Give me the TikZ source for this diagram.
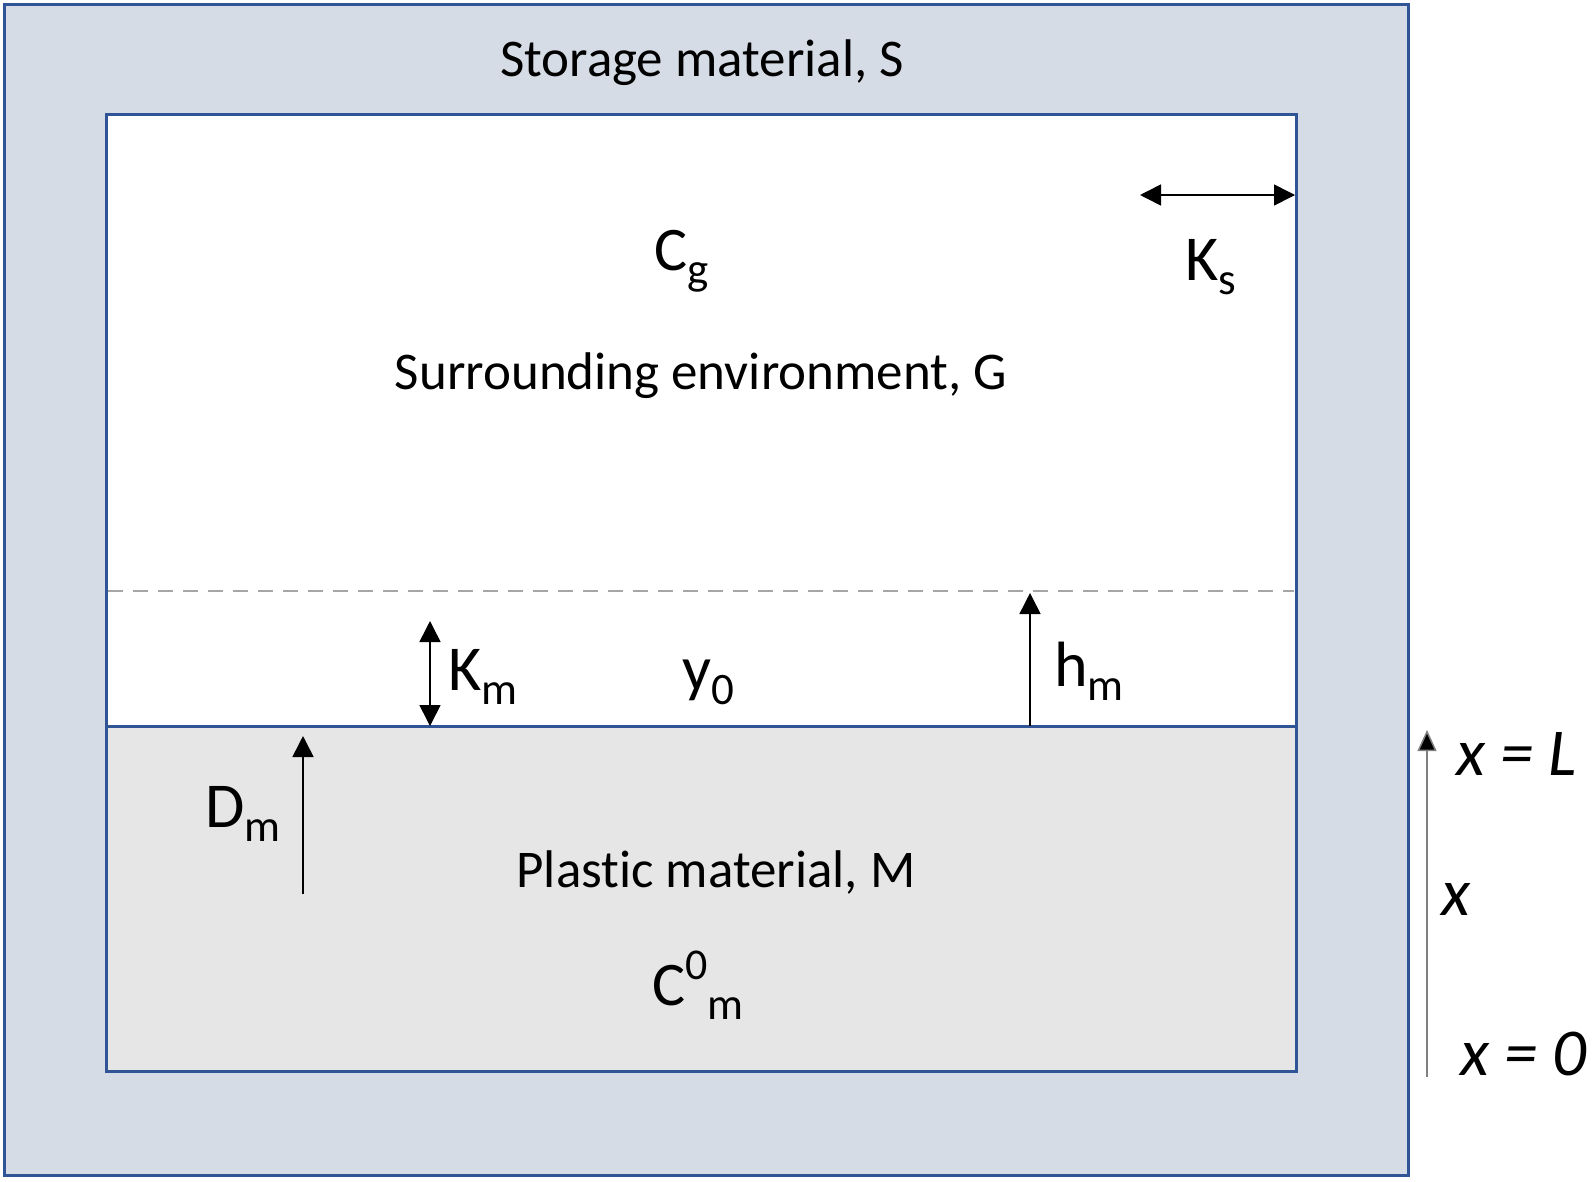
\documentclass[tikz,border=0pt]{standalone}
\usepackage{fontspec}
\setmainfont{Carlito}[Ligatures=NoCommon]
\usetikzlibrary{arrows.meta}
\definecolor{sfill}{HTML}{D6DCE5}
\definecolor{sline}{HTML}{2F5597}
\definecolor{mfill}{HTML}{E7E6E6}
\definecolor{dashgray}{HTML}{A6A6A6}
\newcommand\lblsub[2]{#1\raisebox{-14pt}{\fontsize{45}{45}\selectfont #2}}
\tikzset{
  body/.style={inner sep=0pt, font=\fontsize{53}{60}\selectfont},
  lab/.style={inner sep=0pt, font=\fontsize{64}{70}\selectfont},
  conc/.style={inner sep=0pt, font=\fontsize{62}{70}\selectfont},
  axl/.style={inner sep=0pt, font=\fontsize{67}{70}\selectfont\itshape},
  arr/.style={line width=1.6pt, -{Triangle[length=21pt,width=21pt]}},
  darr/.style={line width=1.6pt, {Triangle[length=21pt,width=21pt]}-{Triangle[length=21pt,width=21pt]}},
  wall/.style={draw=sline, line width=3pt}
}
\begin{document}
\begin{tikzpicture}[x=1pt,y=-1pt]
\useasboundingbox (0,0) rectangle (1594,1181);
% storage material
\draw[wall, fill=sfill] (4,4) rectangle (1408,1175);
\fill[white] (106,114) rectangle (1296,726);
\fill[mfill] (106,726) rectangle (1296,1071);
\draw[dashgray, line width=2.8pt, dash pattern=on 15pt off 10pt] (108,591) -- (1294,591);
\draw[wall] (106,726) -- (1296,726);
\draw[wall] (106,114) rectangle (1296,1071);
% texts
\node[body, anchor=base] (st) at (702,76) {Storage material, S};
\node[body, anchor=base] (sur) at (701,389) {Surrounding environment, G};
\node[body, anchor=base] (pl) at (716,887) {Plastic material, M};
\node[conc, anchor=base west] (cg) at (654,270) {\lblsub{C}{g}};
\node[conc, anchor=base west] (cm) at (652,1005) {C\raisebox{26pt}{\fontsize{44}{44}\selectfont 0}\raisebox{-14pt}{\fontsize{45}{45}\selectfont m}};
\node[lab, anchor=base west] (ks) at (1185,280) {\lblsub{K}{s}};
\node[lab, anchor=base west] (km) at (448,690) {\lblsub{K}{m}};
\node[lab, anchor=base west] (y0) at (682,690) {y\raisebox{-14pt}{\fontsize{45}{45}\selectfont 0}};
\node[lab, anchor=base west] (hm) at (1054,686) {\lblsub{h}{m}};
\node[lab, anchor=base west] (dm) at (205,827) {\lblsub{D}{m}};
\node[axl, anchor=base west] (xl) at (1456,775) {x = L};
\node[axl, anchor=base west] (xx) at (1441,915) {x};
\node[axl, anchor=base west] (x0) at (1460,1075) {x = 0};
% arrows
\coordinate (ksA) at (1140,195);
\coordinate (ksB) at (1295,195);
\draw[darr] (ksA) -- (ksB);
\coordinate (kmA) at (430,621);
\coordinate (kmB) at (430,726);
\draw[darr] (kmA) -- (kmB);
\coordinate (hmA) at (1030,726);
\coordinate (hmB) at (1030,593);
\draw[arr] (hmA) -- (hmB);
\coordinate (dmA) at (303,894);
\coordinate (dmB) at (303,736);
\draw[arr] (dmA) -- (dmB);
\coordinate (axA) at (1427,1077);
\coordinate (axB) at (1427,730);
\draw[line width=1.5pt, draw=gray, -{Triangle[length=21pt,width=19pt,fill=black]}] (axA) -- (axB);
\end{tikzpicture}
\end{document}
